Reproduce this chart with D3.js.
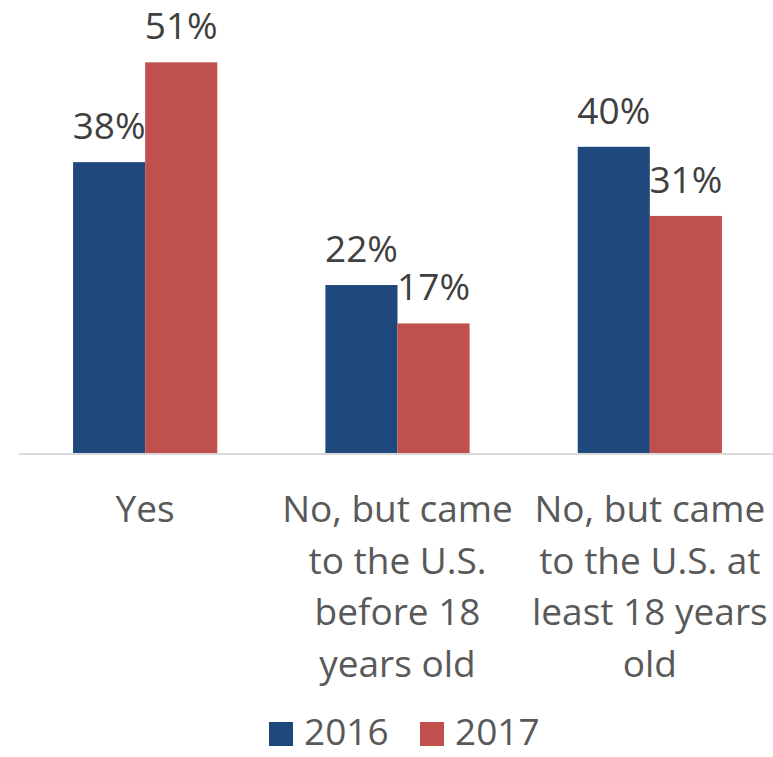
<!DOCTYPE html>
<html>
<head>
<meta charset="utf-8">
<script src="https://cdn.jsdelivr.net/npm/d3@7"></script>
<style>
  html, body { margin: 0; padding: 0; background: #fff; }
  svg { display: block; }
  text { font-family: "Open Sans", "Noto Sans", sans-serif; }
</style>
</head>
<body>
<svg id="chart" width="773" height="757"></svg>
<script>
const categories = ["Yes", "No, but came to the U.S. before 18 years old", "No, but came to the U.S. at least 18 years old"];
const categoryLines = [
  ["Yes"],
  ["No, but came", "to the U.S.", "before 18", "years old"],
  ["No, but came", "to the U.S. at", "least 18 years", "old"]
];
const seriesNames = ["2016", "2017"];
const values2016 = [38, 22, 40];
const values2017 = [51, 17, 31];
const colors = ["#1F497D", "#C0504D"];

const svg = d3.select("#chart");
const baseY = 454;

const x = d3.scaleBand().domain(categories).range([19, 776]).paddingInner(0).paddingOuter(0);
const x1 = d3.scaleBand().domain(seriesNames).range([0, x.bandwidth()]).paddingInner(0).paddingOuter(0.75);
const y = d3.scaleLinear().domain([0, 59]).range([baseY, baseY - 59 * 7.68]);

const data = categories.map((c, i) => ({ cat: c, vals: [values2016[i], values2017[i]] }));

const groups = svg.selectAll("g.grp").data(data).join("g")
  .attr("class", "grp")
  .attr("transform", d => `translate(${x(d.cat)},0)`);

groups.selectAll("rect").data(d => d.vals.map((v, j) => ({ v, s: seriesNames[j], j })))
  .join("rect")
  .attr("x", d => x1(d.s))
  .attr("width", x1.bandwidth())
  .attr("y", d => y(d.v))
  .attr("height", d => y(0) - y(d.v))
  .attr("fill", d => colors[d.j]);

groups.selectAll("text.val").data(d => d.vals.map((v, j) => ({ v, s: seriesNames[j], j })))
  .join("text")
  .attr("class", "val")
  .attr("x", d => x1(d.s) + x1.bandwidth() / 2)
  .attr("y", d => y(d.v) - 23)
  .attr("text-anchor", "middle")
  .attr("font-size", 37)
  .attr("fill", "#404040")
  .text(d => d.v + "%");

// axis baseline
const xAxis = d3.axisBottom(x).tickSize(0).tickFormat("");
const ax = svg.append("g").attr("transform", `translate(0,${baseY})`).call(xAxis);
ax.select(".domain").attr("stroke", "#D9D9D9").attr("stroke-width", 2).attr("d", `M19,0H773`);

// category labels
categories.forEach((c, i) => {
  const t = svg.append("text")
    .attr("text-anchor", "middle")
    .attr("font-size", 37)
    .attr("fill", "#595959");
  categoryLines[i].forEach((ln, k) => {
    t.append("tspan")
      .attr("x", x(c) + x.bandwidth() / 2)
      .attr("y", 522 + k * 51.5)
      .text(ln);
  });
});

// legend
const legendX = [269, 420];
seriesNames.forEach((s, j) => {
  svg.append("rect").attr("x", legendX[j]).attr("y", 722).attr("width", 24).attr("height", 24).attr("fill", colors[j]);
  svg.append("text").attr("x", legendX[j] + 35).attr("y", 745).attr("font-size", 37).attr("fill", "#595959").text(s);
});
</script>
</body>
</html>
